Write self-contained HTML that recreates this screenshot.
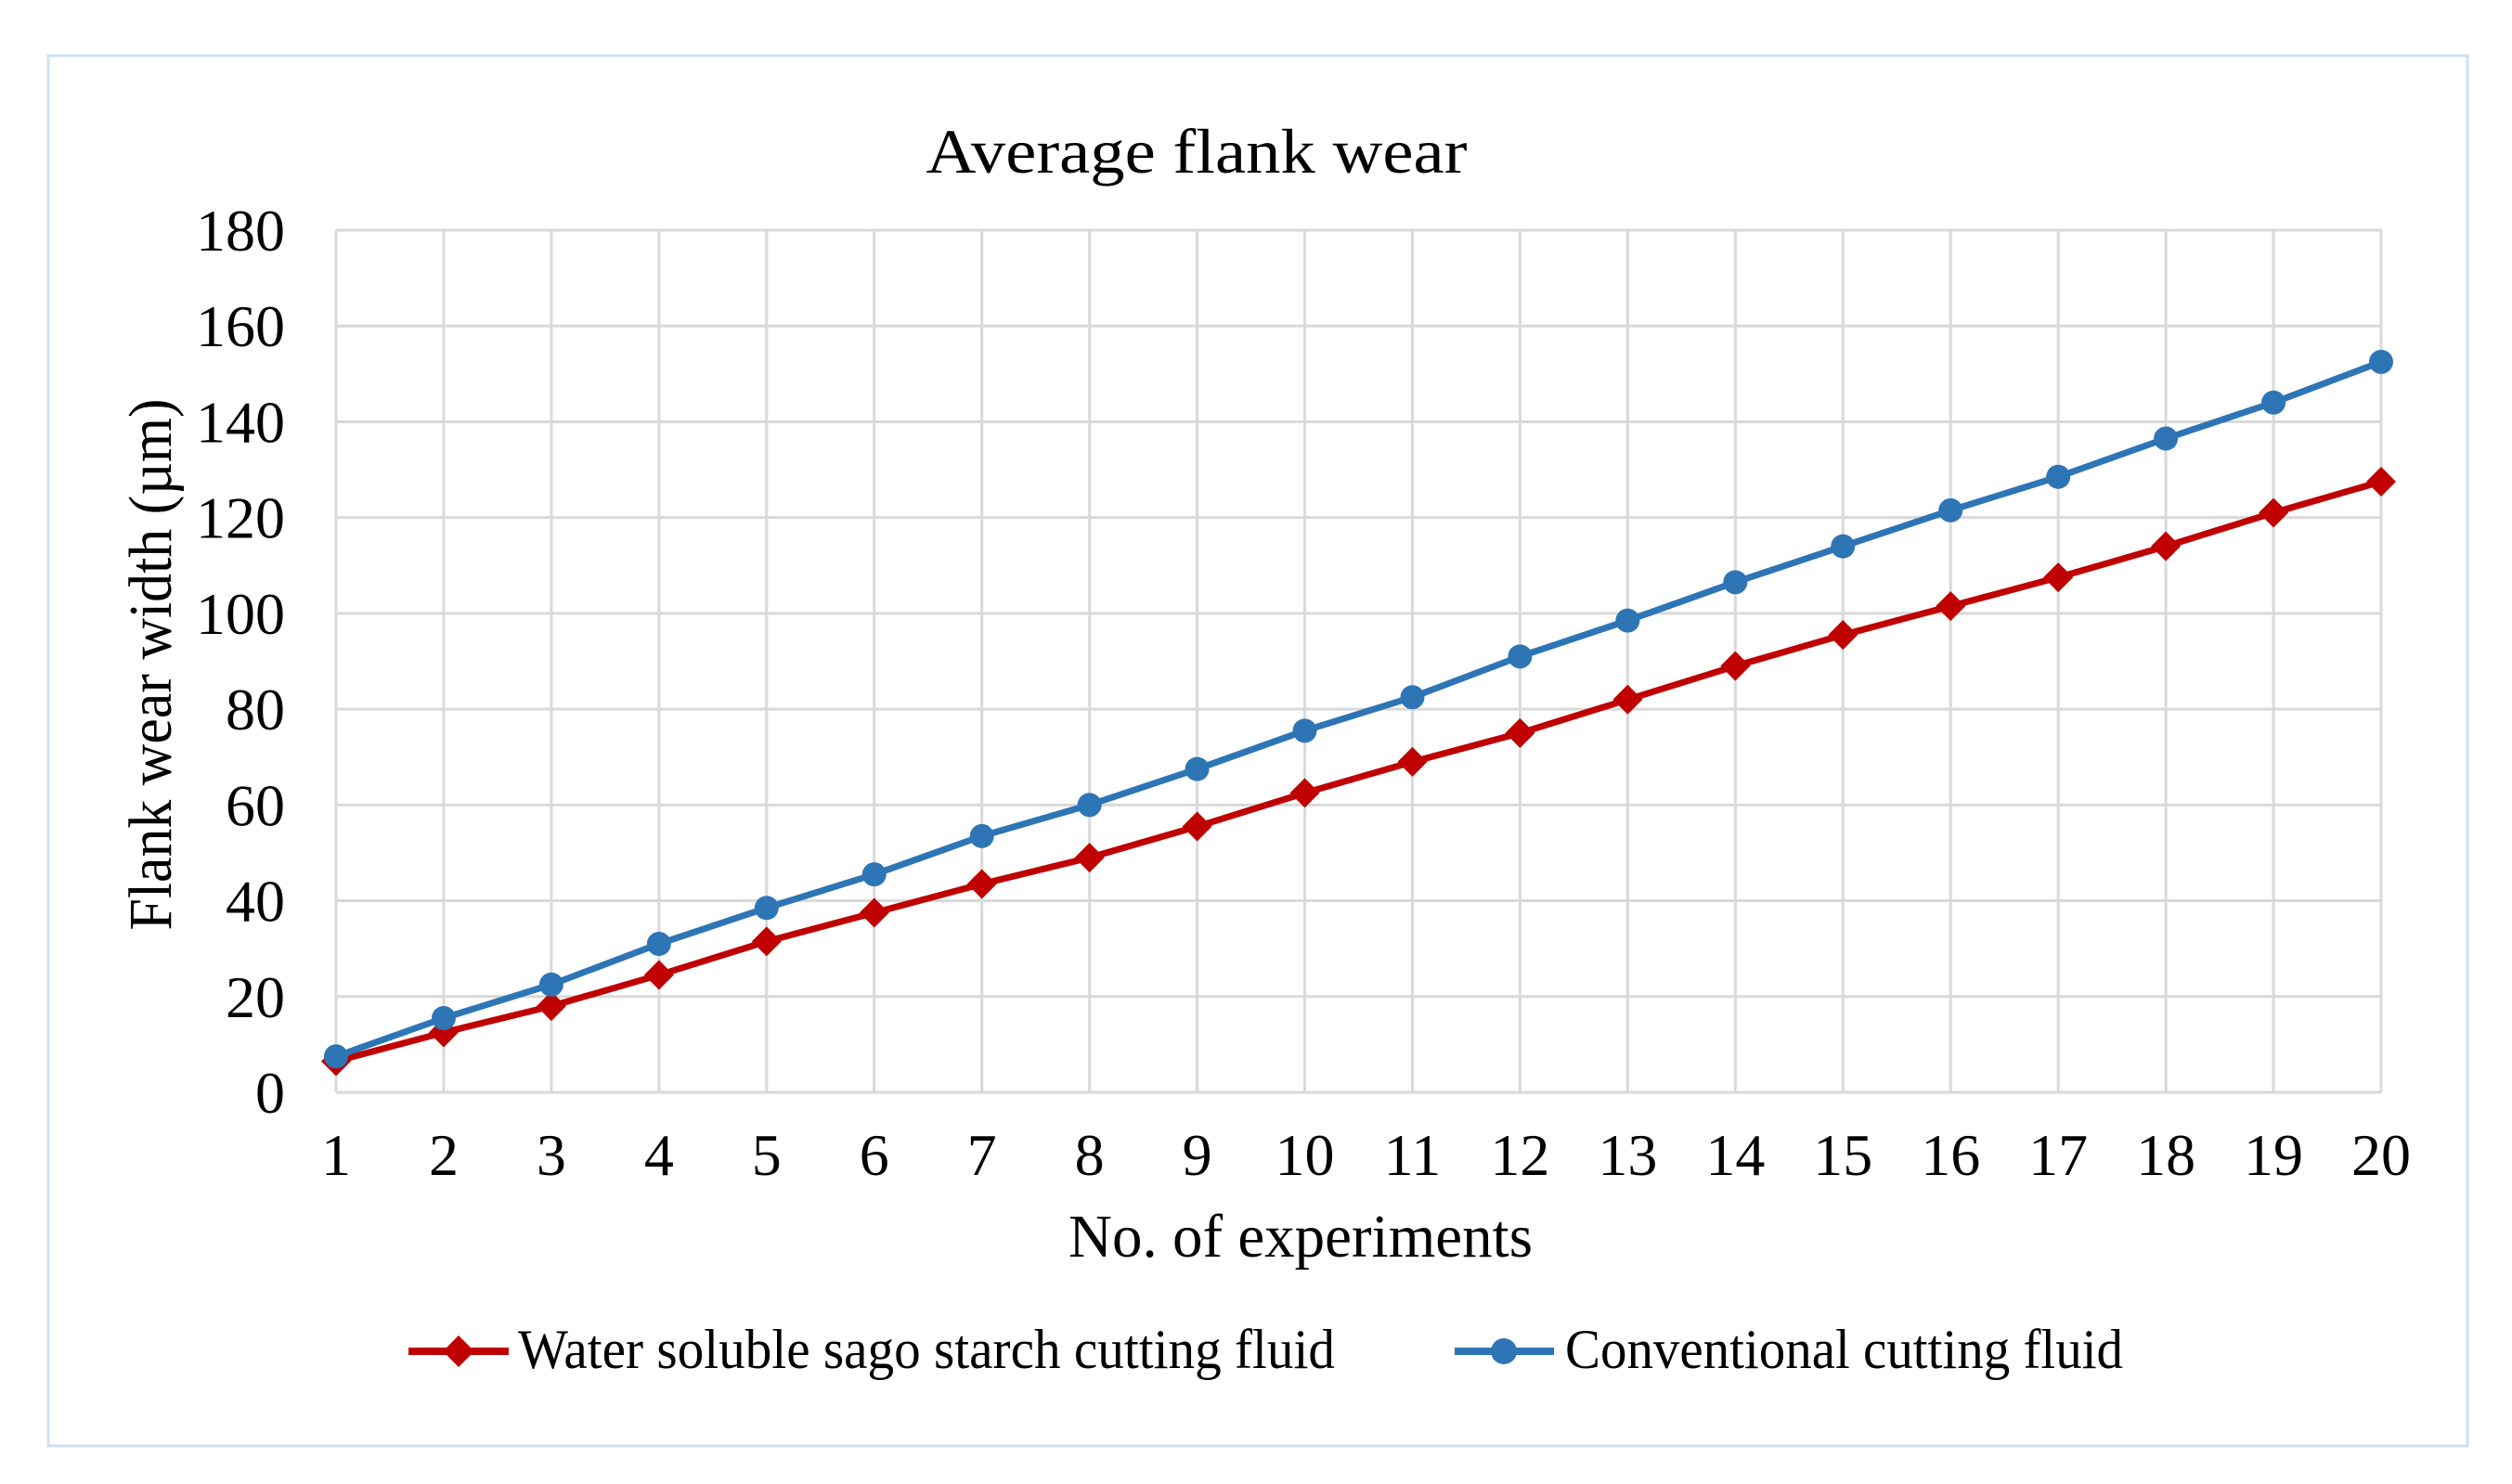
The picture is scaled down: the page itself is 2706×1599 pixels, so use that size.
<!DOCTYPE html>
<html><head><meta charset="utf-8"><style>
html,body{margin:0;padding:0;background:#fff;}
svg{display:block;font-family:"Liberation Serif",serif;}
</style></head><body>
<svg id="chart" width="2706" height="1599" viewBox="0 0 2706 1599">
<rect x="52" y="60" width="2606" height="1498" fill="#fff" stroke="#cfe0f1" stroke-width="3"/>
<text x="1289" y="186" font-size="68" text-anchor="middle" textLength="583" lengthAdjust="spacingAndGlyphs">Average  flank wear</text>
<g id="grid"></g>
<g id="yticks"></g>
<g id="xticks"></g>
<text transform="translate(184,716) rotate(-90)" font-size="66" text-anchor="middle" textLength="573" lengthAdjust="spacingAndGlyphs">Flank wear width (µm)</text>
<text x="1401" y="1354" font-size="66" text-anchor="middle" textLength="500" lengthAdjust="spacingAndGlyphs">No. of experiments</text>
<g id="series"></g>
<g>
 <g>
  <line x1="440" y1="1456" x2="548" y2="1456" stroke="#c00000" stroke-width="8"/>
  <polygon points="494,1439 511,1456 494,1473 477,1456" fill="#c00000"/>
  <text x="558" y="1474" font-size="60" textLength="880" lengthAdjust="spacingAndGlyphs">Water soluble sago starch cutting fluid</text>
 </g>
 <g>
  <line x1="1567" y1="1456" x2="1674" y2="1456" stroke="#2e75b6" stroke-width="8"/>
  <circle cx="1620" cy="1456" r="14" fill="#2e75b6"/>
  <text x="1686" y="1474" font-size="60" textLength="601" lengthAdjust="spacingAndGlyphs">Conventional cutting fluid</text>
 </g>
</g>
</svg>
<script>
const categories = [1,2,3,4,5,6,7,8,9,10,11,12,13,14,15,16,17,18,19,20];
const sagoValues = [6.5,12.5,18,24.5,31.5,37.5,43.5,49,55.5,62.5,69,75,82,89,95.5,101.5,107.5,114,121,127.5];
const conventionalValues = [7.5,15.5,22.5,31,38.5,45.5,53.5,60,67.5,75.5,82.5,91,98.5,106.5,114,121.5,128.5,136.5,144,152.5];
const yTicks = [0,20,40,60,80,100,120,140,160,180];

const NS = "http://www.w3.org/2000/svg";
const X0 = 362, X1 = 2565, Y0 = 1177, Y1 = 248, YMAX = 180;
function xs(i){ return X0 + (X1 - X0) * i / (categories.length - 1); }
function ys(v){ return Y0 - (Y0 - Y1) * v / YMAX; }
function mk(tag, attrs, parent){ const e = document.createElementNS(NS, tag); for (const k in attrs) e.setAttribute(k, attrs[k]); parent.appendChild(e); return e; }

const grid = document.getElementById('grid');
const yt = document.getElementById('yticks');
const xt = document.getElementById('xticks');
yTicks.forEach(v => {
  const l = mk('line', {x1: X0, x2: X1, y1: ys(v), y2: ys(v), stroke: '#d9d9d9', 'stroke-width': 3}, grid);
  
  
  const t = mk('text', {x: 307, y: ys(v) + 22, 'font-size': 64, 'text-anchor': 'end'}, yt);
  t.textContent = v;
  
  
});
categories.forEach((c, i) => {
  const l = mk('line', {x1: xs(i), x2: xs(i), y1: Y1, y2: Y0, stroke: '#d9d9d9', 'stroke-width': 3}, grid);
  
  
  const t = mk('text', {x: xs(i), y: 1266, 'font-size': 64, 'text-anchor': 'middle'}, xt);
  t.textContent = c;
  
  
});

const series = document.getElementById('series');
function drawSeries(vals, color, shape, name){
  const g = mk('g', {}, series);
  
  
  const pts = vals.map((v, i) => xs(i) + ',' + ys(v)).join(' ');
  const pl = mk('polyline', {points: pts, fill: 'none', stroke: color, 'stroke-width': 7, 'stroke-linejoin': 'round'}, g);
  
  
  vals.forEach((v, i) => {
    const x = xs(i), y = ys(v);
    let m;
    if (shape === 'circle') m = mk('circle', {cx: x, cy: y, r: 13, fill: color}, g);
    else m = mk('polygon', {points: `${x},${y-16} ${x+16},${y} ${x},${y+16} ${x-16},${y}`, fill: color}, g);
    
    
  });
}
drawSeries(sagoValues, '#c00000', 'diamond', 'sago-series');
drawSeries(conventionalValues, '#2e75b6', 'circle', 'conventional-series');
</script>
</body></html>
